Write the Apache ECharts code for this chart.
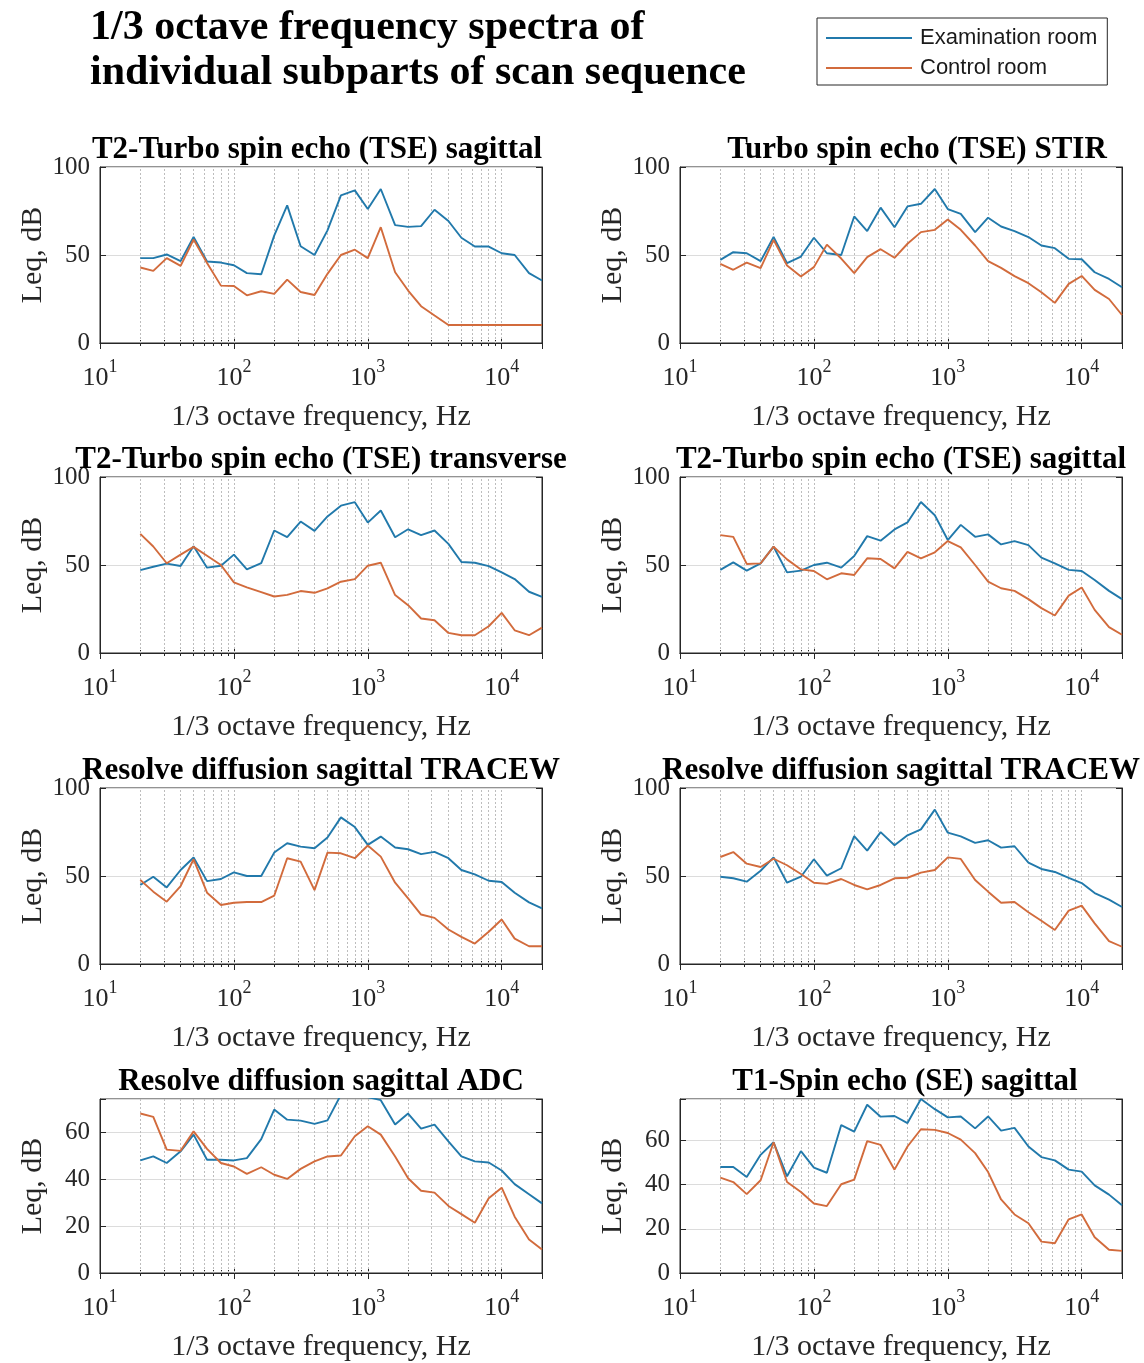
<!DOCTYPE html>
<html>
<head>
<meta charset="utf-8">
<script src="https://cdn.jsdelivr.net/npm/echarts@6/dist/echarts.min.js"></script>
<style>
  html, body { margin: 0; padding: 0; background: #fff; }
  #chart { width: 1144px; height: 1363px; }
</style>
</head>
<body>
<div id="chart"></div>
<script>
// 1/3 octave band centre frequencies, Hz
const freqs = [20, 25, 31.5, 40, 50, 63, 80, 100, 125, 160, 200, 250, 315, 400, 500, 630, 800,
  1000, 1250, 1600, 2000, 2500, 3150, 4000, 5000, 6300, 8000, 10000, 12500, 16000, 20000]

// dotted vertical grid (log minor grid)
const gridFreqs = [20, 30, 40, 50, 60, 70, 80, 90, 100, 200, 300, 400, 500, 600, 700, 800, 900,
  1000, 2000, 3000, 4000, 5000, 6000, 7000, 8000, 9000, 10000]

const seriesNames = ['Examination room', 'Control room']

// Leq, dB per band
const examTseSag1 = [48.2, 48.2, 50.3, 46.5, 60.2, 46.3, 45.7, 44.2, 39.7, 39.1, 61, 78.2, 55, 50, 64, 83.9, 86.7, 76.1, 87.5, 67, 66, 66.4, 75.7, 69.3, 59.8, 54.8, 54.8, 51, 50, 39.7, 35.5]
const ctrlTseSag1 = [42.9, 41, 48.2, 43.8, 58.8, 45.5, 32.6, 32.4, 27.1, 29.4, 27.9, 36, 29, 27.3, 39.3, 50, 53, 48.2, 65.8, 40.2, 29.8, 20.9, 15.6, 10.2, 10.2, 10.2, 10.2, 10.2, 10.2, 10.2, 10.2]

const examStir = [47.2, 51.6, 51, 46.5, 60.2, 45.4, 49.1, 59.8, 51, 50, 71.9, 63.6, 76.9, 65.8, 77.6, 79.1, 87.5, 76.1, 73.4, 63, 71.2, 66.2, 63.6, 60.2, 55.4, 53.9, 47.8, 47.6, 40.2, 36.4, 31.7]
const ctrlStir = [45, 41.6, 45.7, 42.5, 58.6, 44, 37.8, 43.1, 55.9, 48, 39.7, 48.8, 53.3, 48.4, 56.4, 63, 64.3, 70.2, 64.3, 55.4, 46.5, 42.7, 38, 34, 28.8, 22.8, 33.6, 38.1, 30.2, 25, 15.9]

const examTseTra = [47.1, 49, 50.8, 49.4, 60.6, 48.5, 49.6, 55.9, 47.5, 51.1, 69.6, 65.8, 74.7, 69.4, 77.6, 83.7, 85.7, 74.1, 81, 65.8, 70.3, 67, 69.6, 62, 51.7, 51.3, 49.4, 45.8, 42, 34.8, 31.9]
const ctrlTseTra = [67.7, 60.5, 51, 55.9, 60.3, 55.3, 50, 40.1, 37.3, 34.6, 32.1, 33, 35.2, 34.2, 36.7, 40.5, 42, 49.6, 51.3, 32.9, 27.2, 19.6, 18.6, 11.4, 10.1, 10.1, 15.2, 22.8, 12.9, 10.1, 14.4]

const examTseSag2 = [47.2, 51.5, 46.8, 50.9, 60.4, 45.8, 46.8, 50, 51.3, 48.5, 55.1, 66.4, 63.8, 70.2, 74.2, 85.8, 78.3, 64.2, 72.8, 66, 67.4, 61.7, 63.6, 61.3, 54.2, 50.9, 47.2, 46.6, 41.5, 35.3, 30.6]
const ctrlTseSag2 = [67, 66, 50.6, 50.9, 60.4, 53.2, 47.5, 46.6, 41.9, 45.3, 44.3, 53.8, 53.4, 48.1, 57.5, 53.8, 57.2, 63.6, 60, 50, 40.6, 36.8, 35.3, 30.6, 25.5, 21.3, 32.6, 37.2, 24.5, 14.7, 10.4]

const examTrace1 = [44.9, 49.6, 43.5, 53.4, 60.5, 47.1, 48.3, 52.1, 50, 50, 63.3, 68.6, 66.7, 65.8, 71.9, 83.3, 77.8, 67.7, 72.4, 66.2, 65.2, 62.4, 63.7, 60.1, 53.4, 50.9, 47.3, 46.6, 40.5, 35, 31.6]
const ctrlTrace1 = [47.7, 41.1, 35.4, 44.3, 59.5, 40.5, 33.5, 34.8, 35.2, 35.2, 38.8, 60.1, 58.2, 42, 63.3, 62.9, 60.1, 67.3, 61, 46.2, 37.3, 28.1, 26.2, 19.6, 15.4, 11.6, 18.3, 25.3, 14.4, 10.1, 10.1]

const examTrace2 = [49.6, 48.7, 46.8, 53, 60.6, 46.2, 49.6, 59.5, 50.2, 54.4, 72.7, 64.4, 74.9, 67.5, 73.1, 76.5, 87.7, 74.6, 72.5, 68.8, 70.3, 66.1, 66.9, 57.6, 54, 52.3, 48.9, 46, 40.3, 36.6, 32.4]
const ctrlTrace2 = [60.8, 63.6, 57, 55.1, 59.8, 56.1, 51.1, 46.2, 45.5, 48.3, 44.9, 42.4, 44.9, 48.7, 49, 51.9, 53.4, 60.6, 59.7, 47.7, 41.1, 34.8, 35.2, 29.4, 24.6, 19.3, 30.3, 33.2, 23.1, 13, 9.8]

const examAdc = [48, 49.7, 46.9, 51.9, 59, 48.3, 48.3, 48, 49, 57.1, 69.7, 65.4, 65, 63.6, 65.1, 76, 75.5, 75, 73.7, 63.3, 68, 61.6, 63.3, 56.1, 49.7, 47.6, 47.1, 43.7, 37.9, 33.6, 29.7]
const ctrlAdc = [68, 66.6, 52.6, 52.1, 60.4, 52.9, 46.9, 45.4, 42.3, 45.1, 41.9, 40.1, 44.4, 47.6, 49.7, 50.1, 58.3, 62.6, 59, 49.7, 40.4, 35.1, 34.3, 28.6, 25.1, 21.4, 31.9, 36.4, 24, 14.3, 10]

const examT1Se = [48, 48, 43.5, 53.5, 59.2, 43.8, 55.2, 47.7, 45.4, 67, 64, 76.2, 70.8, 71.1, 67.9, 78.8, 74.2, 70.5, 70.9, 65.5, 70.9, 64.5, 65.7, 57.3, 52.5, 51, 46.8, 45.9, 39.7, 35.5, 30.7]
const ctrlT1Se = [43.2, 41.2, 35.7, 42, 59.2, 41.2, 36.7, 31.5, 30.3, 40.2, 42.3, 59.7, 58, 46.8, 57.3, 65.1, 64.8, 63.4, 60.4, 54.3, 45.7, 33.3, 26.5, 22.5, 14.2, 13.5, 24.3, 26.5, 16.2, 10.5, 10]

const panels = [
  { title: 'T2-Turbo spin echo (TSE) sagittal', exam: examTseSag1, ctrl: ctrlTseSag1, yMax: 100, yStep: 50, col: 0, row: 0, dx: -4 },
  { title: 'Turbo spin echo (TSE) STIR', exam: examStir, ctrl: ctrlStir, yMax: 100, yStep: 50, col: 1, row: 0, dx: 16 },
  { title: 'T2-Turbo spin echo (TSE) transverse', exam: examTseTra, ctrl: ctrlTseTra, yMax: 100, yStep: 50, col: 0, row: 1, dx: 0 },
  { title: 'T2-Turbo spin echo (TSE) sagittal', exam: examTseSag2, ctrl: ctrlTseSag2, yMax: 100, yStep: 50, col: 1, row: 1, dx: 0 },
  { title: 'Resolve diffusion sagittal TRACEW', exam: examTrace1, ctrl: ctrlTrace1, yMax: 100, yStep: 50, col: 0, row: 2, dx: 0 },
  { title: 'Resolve diffusion sagittal TRACEW', exam: examTrace2, ctrl: ctrlTrace2, yMax: 100, yStep: 50, col: 1, row: 2, dx: 0 },
  { title: 'Resolve diffusion sagittal ADC', exam: examAdc, ctrl: ctrlAdc, yMax: 74.2, yStep: 20, col: 0, row: 3, dx: 0 },
  { title: 'T1-Spin echo (SE) sagittal', exam: examT1Se, ctrl: ctrlT1Se, yMax: 78.8, yStep: 20, col: 1, row: 3, dx: 4 }
]

const colLeft = [100, 680]
const plotWidth = 442
const rowTop = [167, 477, 788, 1099]
const rowHeight = [176, 176, 176, 174]

const serif = '"Times New Roman", "Liberation Serif", serif'
const axisColor = '#262626'
const blue = '#2179ab'
const orange = '#d26b3c'

function decadeLabel (v) {
  const e = Math.round(Math.log10(v))
  if (Math.abs(Math.log10(v) - e) > 1e-6) return ''
  return '{b|10}{s|' + e + '}'
}

const chart = echarts.init(document.getElementById('chart'))
const grids = []
const xAxes = []
const yAxes = []
const series = []
const graphics = [{
  type: 'text',
  x: 90,
  y: 6,
  style: {
    text: '1/3 octave frequency spectra of\nindividual subparts of scan sequence',
    font: 'bold 42px ' + serif,
    lineHeight: 45,
    fill: '#000'
  }
}]

panels.forEach((p, i) => {
  const left = colLeft[p.col]
  const top = rowTop[p.row]
  grids.push({
    left, top, width: plotWidth, height: rowHeight[p.row],
    show: true, borderColor: axisColor, borderWidth: 1
  })

  const xCommon = {
    type: 'log', logBase: 10, gridIndex: i, min: 10, max: 20000,
    axisLine: { show: true, lineStyle: { color: axisColor } },
    axisTick: { show: true, inside: true, length: 6, lineStyle: { color: axisColor } },
    minorTick: { show: true, splitNumber: 9, length: 3, lineStyle: { color: axisColor } },
    splitLine: { show: false }
  }
  xAxes.push(Object.assign({}, xCommon, {
    position: 'bottom',
    name: '1/3 octave frequency, Hz',
    nameLocation: 'middle',
    nameGap: 59,
    nameTextStyle: { fontFamily: serif, fontSize: 30, color: axisColor },
    axisLabel: {
      formatter: decadeLabel,
      margin: 15,
      color: axisColor,
      rich: {
        b: { fontFamily: serif, fontSize: 26, color: axisColor, verticalAlign: 'bottom', lineHeight: 33 },
        s: { fontFamily: serif, fontSize: 18, color: axisColor, verticalAlign: 'top', lineHeight: 18 }
      }
    }
  }))
  xAxes.push(Object.assign({}, xCommon, {
    position: 'top',
    axisLabel: { show: false }
  }))

  const yCommon = {
    type: 'value', gridIndex: i, min: 0, max: p.yMax, interval: p.yStep,
    axisLine: { show: true, lineStyle: { color: axisColor } },
    axisTick: { show: true, inside: true, length: 6, lineStyle: { color: axisColor } }
  }
  yAxes.push(Object.assign({}, yCommon, {
    position: 'left',
    name: 'Leq, dB',
    nameLocation: 'middle',
    nameGap: 52,
    nameTextStyle: { fontFamily: serif, fontSize: 30, color: axisColor },
    splitLine: { show: true, lineStyle: { color: '#dcdcdc', width: 1 } },
    axisLabel: {
      margin: 10,
      fontFamily: serif,
      fontSize: 25,
      color: axisColor,
      formatter: v => (Math.abs(v % p.yStep) < 1e-9 ? String(v) : '')
    }
  }))
  yAxes.push(Object.assign({}, yCommon, {
    position: 'right',
    axisLabel: { show: false },
    splitLine: { show: false }
  }))

  // dotted frequency grid lines
  series.push({
    type: 'line',
    name: 'grid' + i,
    xAxisIndex: 2 * i,
    yAxisIndex: 2 * i,
    data: [],
    silent: true,
    markLine: {
      silent: true,
      z: 1,
      symbol: 'none',
      label: { show: false },
      lineStyle: { type: [2, 2], color: '#bdbdbd', width: 1 },
      data: gridFreqs.map(f => ({ xAxis: f }))
    }
  })

  ;[p.exam, p.ctrl].forEach((vals, k) => {
    series.push({
      type: 'line',
      name: seriesNames[k],
      xAxisIndex: 2 * i,
      yAxisIndex: 2 * i,
      data: freqs.map((f, j) => [f, vals[j]]),
      symbol: 'none',
      clip: true,
      z: 3,
      lineStyle: { width: 1.9, color: k === 0 ? blue : orange },
      itemStyle: { color: k === 0 ? blue : orange }
    })
  })

  graphics.push({
    type: 'text',
    x: left + plotWidth / 2 + p.dx,
    y: top - 17,
    z: 10,
    style: {
      text: p.title,
      font: 'bold 31px ' + serif,
      align: 'center',
      verticalAlign: 'middle',
      fill: '#000'
    }
  })
})

chart.setOption({
  animation: false,
  backgroundColor: '#fff',
  legend: {
    data: seriesNames,
    left: 817,
    top: 18,
    orient: 'vertical',
    icon: 'rect',
    itemWidth: 86,
    itemHeight: 2,
    itemGap: 8,
    padding: [9, 10, 6, 9],
    borderColor: axisColor,
    borderWidth: 1,
    textStyle: {
      fontFamily: '"Liberation Sans", Arial, sans-serif',
      fontSize: 22,
      lineHeight: 22,
      color: '#1a1a1a',
      padding: [0, 0, 0, 3]
    }
  },
  grid: grids,
  xAxis: xAxes,
  yAxis: yAxes,
  series,
  graphic: graphics
})
</script>
</body>
</html>
